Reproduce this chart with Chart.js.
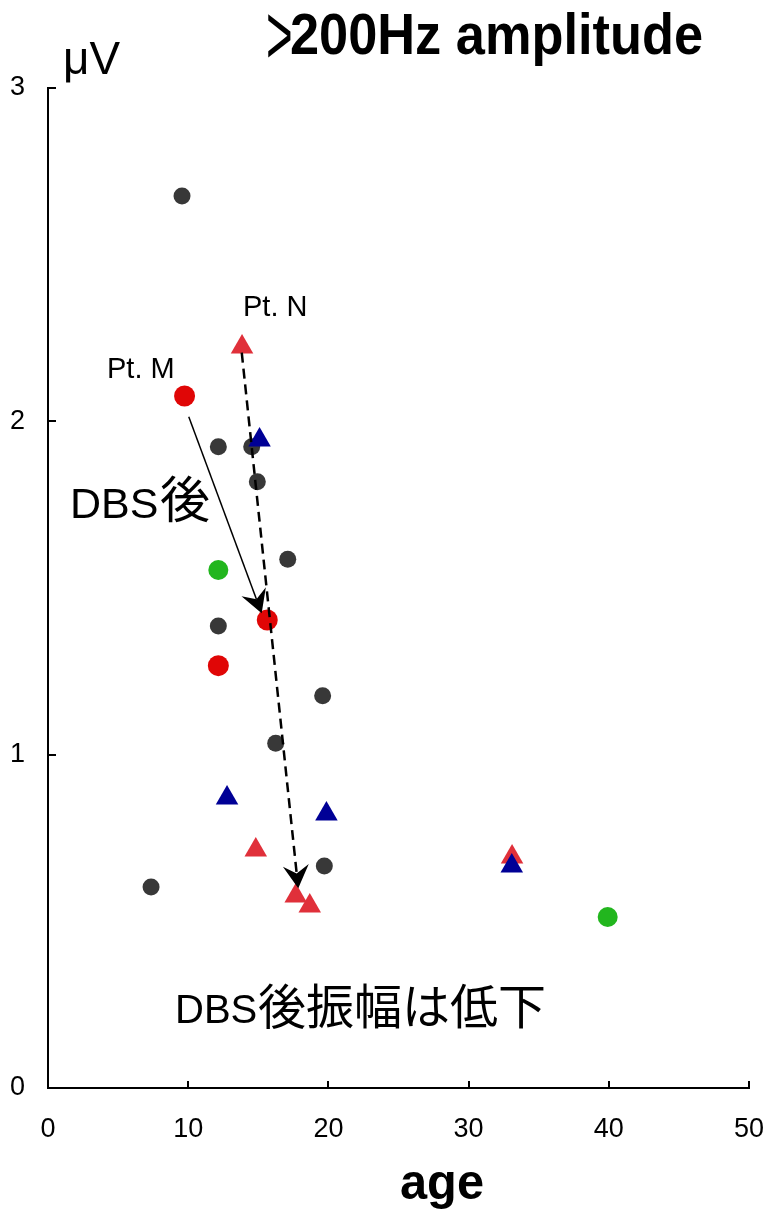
<!DOCTYPE html>
<html><head><meta charset="utf-8">
<script src="https://cdn.jsdelivr.net/npm/chart.js@4.4.0/dist/chart.umd.min.js"></script>
<style>html,body{margin:0;padding:0;background:#fff;}canvas{display:block;}</style>
</head><body>
<canvas id="c" width="769" height="1212"></canvas>
<script>
// ---- data (age, amplitude in µV) ----
const xTickValues = [0, 10, 20, 30, 40, 50];
const yTickValues = [0, 1, 2, 3];
const grayAge = [9.56, 12.15, 14.53, 14.93, 17.10, 12.15, 19.59, 16.24, 19.71, 7.35];
const grayAmp = [2.676, 1.924, 1.924, 1.819, 1.586, 1.386, 1.177, 1.034, 0.666, 0.603];
const redCircleAge = [9.74, 15.64, 12.15];
const redCircleAmp = [2.076, 1.404, 1.267];
const greenAge = [12.15, 39.92];
const greenAmp = [1.554, 0.513];
const redTriAge = [13.84, 14.82, 17.67, 18.67, 33.10];
const redTriAmp = [2.223, 0.714, 0.576, 0.546, 0.693];
const blueTriAge = [15.09, 12.77, 19.86, 33.08];
const blueTriAmp = [1.944, 0.870, 0.822, 0.666];
// arrows: [fromAge, fromAmp, toAge, toAmp]
const arrowM = [10.04, 2.014, 15.24, 1.424];
const arrowN = [13.82, 2.206, 17.85, 0.599];

const pts = (xs, ys) => xs.map((x, i) => ({x: x, y: ys[i]}));

function arrow(ctx, x1, y1, x2, y2, dash, lw) {
  ctx.save();
  ctx.strokeStyle = '#000'; ctx.fillStyle = '#000'; ctx.lineWidth = lw;
  const ang = Math.atan2(y2 - y1, x2 - x1);
  const L = 23, W = 13, N = 15;
  const ex = x2 - Math.cos(ang) * N, ey = y2 - Math.sin(ang) * N;
  ctx.setLineDash(dash);
  ctx.beginPath(); ctx.moveTo(x1, y1); ctx.lineTo(ex, ey); ctx.stroke();
  ctx.setLineDash([]);
  const bx = x2 - Math.cos(ang) * L, by = y2 - Math.sin(ang) * L;
  const nx = -Math.sin(ang), ny = Math.cos(ang);
  ctx.beginPath();
  ctx.moveTo(x2, y2);
  ctx.lineTo(bx + nx * W, by + ny * W);
  ctx.lineTo(ex, ey);
  ctx.lineTo(bx - nx * W, by - ny * W);
  ctx.closePath(); ctx.fill();
  ctx.restore();
}

function txt(ctx, s, x, y, font, maxW) {
  ctx.save();
  ctx.font = font; ctx.fillStyle = '#000'; ctx.textAlign = 'left'; ctx.textBaseline = 'alphabetic';
  if (maxW) ctx.fillText(s, x, y, maxW); else ctx.fillText(s, x, y);
  ctx.restore();
}

const annot = {
  id: 'annot',
  afterDatasetsDraw(chart) {
    const ctx = chart.ctx, xs = chart.scales.x, ys = chart.scales.y;
    const P = a => [xs.getPixelForValue(a[0]), ys.getPixelForValue(a[1]), xs.getPixelForValue(a[2]), ys.getPixelForValue(a[3])];
    const m = P(arrowM), n = P(arrowN);
    arrow(ctx, m[0], m[1], m[2], m[3], [], 1.5);
    arrow(ctx, n[0], n[1], n[2], n[3], [10, 6], 2.5);
  },
  afterDraw(chart) {
    const ctx = chart.ctx, xs = chart.scales.x, ys = chart.scales.y, a = chart.chartArea;
    // inside tick marks
    ctx.save();
    ctx.strokeStyle = '#000'; ctx.lineWidth = 2;
    xs.ticks.forEach(t => {
      const px = Math.round(xs.getPixelForValue(t.value));
      if (t.value === 0) return;
      ctx.beginPath(); ctx.moveTo(px, a.bottom); ctx.lineTo(px, a.bottom - 7); ctx.stroke();
    });
    ys.ticks.forEach(t => {
      const py = Math.round(ys.getPixelForValue(t.value));
      if (t.value === 0) return;
      ctx.beginPath(); ctx.moveTo(a.left, py); ctx.lineTo(a.left + 8, py); ctx.stroke();
    });
    ctx.restore();
    // title
    ctx.save();
    ctx.font = '38px "Liberation Sans"'; ctx.fillStyle = '#000';
    ctx.translate(266, 63.5); ctx.scale(1.2, 2.25);
    ctx.fillText('>', 0, 0);
    ctx.restore();
    txt(ctx, '200Hz amplitude', 290, 53.5, 'bold 58px "Liberation Sans"', 413);
    // unit
    txt(ctx, 'μV', 63, 73.5, '46px "Liberation Sans"', 57);
    // axis title
    txt(ctx, 'age', 400, 1199, 'bold 50px "Liberation Sans"', 84);
    // point labels
    txt(ctx, 'Pt. N', 243, 316, '29px "Liberation Sans"');
    txt(ctx, 'Pt. M', 107, 378, '29px "Liberation Sans"');
    // annotations
    txt(ctx, 'DBS', 70, 518, '43px "Liberation Sans"');
    txt(ctx, '後', 160, 518, '50px "Noto Sans CJK JP"');
    txt(ctx, 'DBS', 175, 1023, '40px "Liberation Sans"');
    txt(ctx, '後振幅は低下', 258, 1024, '48px "Noto Sans CJK JP"');
  }
};

Chart.defaults.font.family = '"Liberation Sans", Arial, sans-serif';
Chart.defaults.color = '#000';

new Chart(document.getElementById('c'), {
  type: 'scatter',
  data: {
    datasets: [
      {label: 'blue triangle', data: pts(blueTriAge, blueTriAmp), pointStyle: 'triangle', pointRadius: 13, backgroundColor: '#000096', borderWidth: 0},
      {label: 'red triangle', data: pts(redTriAge, redTriAmp), pointStyle: 'triangle', pointRadius: 13, backgroundColor: '#e0303a', borderWidth: 0},
      {label: 'red circle', data: pts(redCircleAge, redCircleAmp), pointStyle: 'circle', pointRadius: 10.5, backgroundColor: '#e00606', borderWidth: 0},
      {label: 'green circle', data: pts(greenAge, greenAmp), pointStyle: 'circle', pointRadius: 10, backgroundColor: '#22b61e', borderWidth: 0},
      {label: 'gray circle', data: pts(grayAge, grayAmp), pointStyle: 'circle', pointRadius: 8.5, backgroundColor: '#383838', borderWidth: 0}
    ]
  },
  options: {
    responsive: false,
    animation: false,
    devicePixelRatio: 1,
    layout: {padding: {top: 88, right: 20, left: 0, bottom: 0}},
    plugins: {legend: {display: false}, tooltip: {enabled: false}, title: {display: false}},
    scales: {
      x: {
        type: 'linear', min: 0, max: 50,
        afterBuildTicks: s => { s.ticks = xTickValues.map(v => ({value: v})); },
        afterFit: s => { s.height = 124; s.paddingLeft = 0; s.paddingRight = 0; },
        ticks: {autoSkip: false, maxRotation: 0, padding: 25, font: {size: 27}, color: '#000'},
        grid: {display: false, drawTicks: false},
        border: {display: true, color: '#000', width: 2}
      },
      y: {
        type: 'linear', min: 0, max: 3,
        afterBuildTicks: s => { s.ticks = yTickValues.map(v => ({value: v})); },
        afterFit: s => { s.width = 48; s.paddingTop = 0; s.paddingBottom = 0; },
        ticks: {autoSkip: false, padding: 23, font: {size: 27}, color: '#000'},
        grid: {display: false, drawTicks: false},
        border: {display: true, color: '#000', width: 2}
      }
    }
  },
  plugins: [annot]
});
</script>
</body></html>
